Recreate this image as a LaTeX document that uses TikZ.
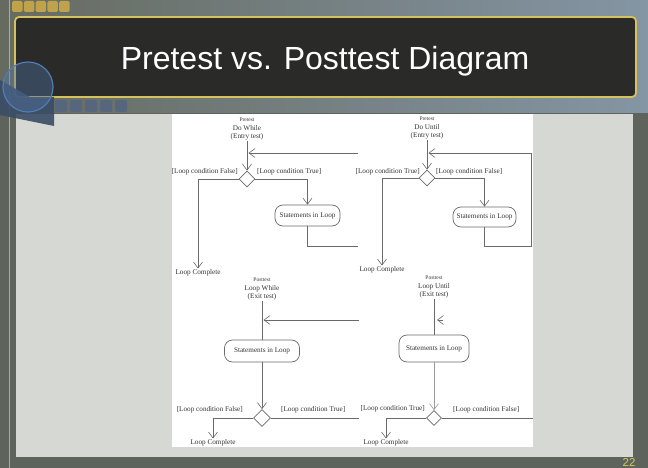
\documentclass[tikz,border=0pt]{standalone}
\usepackage{fontspec}
\setmainfont{Liberation Serif}
\newfontfamily\ttlfont{Liberation Sans}
\usetikzlibrary{arrows.meta,shapes.geometric}
\definecolor{bgbase}{HTML}{5E635C}
\definecolor{bgleft}{HTML}{666B60}
\definecolor{bgright}{HTML}{8495A4}
\definecolor{goldline}{HTML}{D4C25C}
\definecolor{titlefill}{HTML}{2A2B29}
\definecolor{sqgold}{HTML}{BFA24A}
\definecolor{sqblue}{HTML}{56677D}
\definecolor{navyshade}{HTML}{3A4C66}
\definecolor{panelc}{HTML}{D6D8D4}
\definecolor{linec}{HTML}{6A6A6A}
\definecolor{lightlinec}{HTML}{9A9A9A}
\definecolor{txtc}{HTML}{353535}
\definecolor{pagenum}{HTML}{D8C860}
\newcommand\hdsmall{\fontsize{5.5}{8}\selectfont}
\tikzset{
  conn/.style={draw=linec, line width=0.7pt},
  arr/.style={-{Straight Barb[length=6pt,width=9pt,line width=0.6pt]}},
  hdnode/.style={align=center, text=txtc, font=\fontsize{7.2}{8.2}\selectfont, inner sep=1pt},
  labnode/.style={text=txtc, font=\fontsize{7.2}{8.2}\selectfont, inner sep=1pt},
  boxnode/.style={draw=linec, line width=0.7pt, rounded corners=8pt, text=txtc,
    font=\fontsize{7.2}{8.2}\selectfont, inner sep=1pt, fill=white},
  dianode/.style={diamond, draw=linec, line width=0.7pt, fill=white, inner sep=0pt}
}
\begin{document}
\begin{tikzpicture}[x=1pt,y=-1pt]
\useasboundingbox (0,0) rectangle (648,468);
% slide background
\fill[bgbase] (0,0) rectangle (648,468);
\shade[left color=bgleft, right color=bgright] (0,0) rectangle (648,113);
\draw[goldline!80!bgbase, line width=1pt] (9,0) -- (9,468);
\foreach \i in {0,...,4}
  \fill[sqgold, rounded corners=1.5pt] ({12+11.8*\i},1) rectangle ({22.5+11.8*\i},12);
\draw[goldline, line width=1.8pt, fill=titlefill, rounded corners=4pt] (15,17) rectangle (636,97);
\foreach \i in {0,...,4}
  \fill[sqblue, rounded corners=1.5pt] ({55+15*\i},100) rectangle ({67+15*\i},112);
\fill[panelc] (16,114) rectangle (633,457);
\fill[white] (172,114) rectangle (533,447);
\fill[navyshade, opacity=0.9] (0,80) -- (30,97) -- (54,97) -- (54,126) -- (0,115) -- cycle;
\draw[draw={rgb,255:red,80;green,125;blue,180}, line width=1.2pt, fill={rgb,255:red,80;green,115;blue,165}, fill opacity=0.4] (28,87) circle (25);
\node[text=white, font=\ttlfont\fontsize{32}{36}\selectfont, anchor=base] (title) at (325,70) {Pretest vs. Posttest Diagram};
\node[text=pagenum, font=\ttlfont\fontsize{11.5}{12}\selectfont, anchor=base] (pgnum) at (629,466) {22};

% ---------- Pretest Do While ----------
\node[hdnode] (tlhead) at (247,129) {{\hdsmall Pretest}\\Do While\\(Entry test)};
\node[dianode, minimum width=16pt, minimum height=16pt] (tldia) at (247,179) {};
\node[boxnode, minimum width=65pt, minimum height=21pt] (tlbox) at (307.5,215.5) {Statements in Loop};
\node[labnode] (tlout) at (198,273) {Loop Complete};
\node[labnode, anchor=east] (tlfalse) at (239,172) {[Loop condition False]};
\node[labnode, anchor=west] (tltrue) at (256,172) {[Loop condition True]};
\coordinate (tlc1) at (358,246);
\coordinate (tlc2) at (358,153);
\draw[conn,arr] (tlhead.south) -- (tldia.north);
\draw[conn,arr] (tldia.west) -| (tlout.north);
\draw[conn,arr] (tldia.east) -| (tlbox.north);
\draw[conn] (tlbox.south) |- (tlc1);
\draw[conn,arr] (tlc2) -- ([xshift=1.5pt]tlhead.south |- tlc2);

% ---------- Pretest Do Until ----------
\node[hdnode] (trhead) at (427,128) {{\hdsmall Pretest}\\Do Until\\(Entry test)};
\node[dianode, minimum width=16pt, minimum height=16pt] (trdia) at (427,178) {};
\node[boxnode, minimum width=63pt, minimum height=20pt] (trbox) at (484.5,217) {Statements in Loop};
\node[labnode] (trout) at (382,270) {Loop Complete};
\node[labnode, anchor=east] (trtrue) at (421,172) {[Loop condition True]};
\node[labnode, anchor=west] (trfalse) at (435,172) {[Loop condition False]};
\coordinate (trc1) at (531,246);
\coordinate (trc2) at (531,153);
\draw[conn,arr] (trhead.south) -- (trdia.north);
\draw[conn,arr] (trdia.west) -| (trout.north);
\draw[conn,arr] (trdia.east) -| (trbox.north);
\draw[conn,arr] (trbox.south) |- (trc1) -- (trc2) -- ([xshift=1.5pt]trhead.south |- trc2);

% ---------- Posttest Loop While ----------
\node[hdnode] (blhead) at (262,289) {{\hdsmall Posttest}\\Loop While\\(Exit test)};
\node[boxnode, minimum width=75pt, minimum height=22pt] (blbox) at (262,351) {Statements in Loop};
\node[dianode, minimum width=17pt, minimum height=17pt] (bldia) at (262,418) {};
\node[labnode] (blout) at (213,443) {Loop Complete};
\node[labnode, anchor=east] (blfalse) at (244,410) {[Loop condition False]};
\node[labnode, anchor=west] (bltrue) at (280,410) {[Loop condition True]};
\coordinate (blc1) at (359,418);
\coordinate (blc2) at (359,320);
\draw[conn] (blhead.south) -- (blbox.north);
\draw[conn,arr] (blbox.south) -- (bldia.north);
\draw[conn,arr] (bldia.west) -| (blout.north);
\draw[conn] (bldia.east) -- (blc1);
\draw[conn,arr] (blc2) -- ([xshift=1.5pt]blhead.south |- blc2);

% ---------- Posttest Loop Until ----------
\node[hdnode] (brhead) at (434,287) {{\hdsmall Posttest}\\Loop Until\\(Exit test)};
\node[boxnode, minimum width=70pt, minimum height=27pt] (brbox) at (434,348.5) {Statements in Loop};
\node[dianode, minimum width=15pt, minimum height=15pt] (brdia) at (434,418) {};
\node[labnode] (brout) at (386,443) {Loop Complete};
\node[labnode, anchor=east] (brtrue) at (426,409) {[Loop condition True]};
\node[labnode, anchor=west] (brfalse) at (452,410) {[Loop condition False]};
\coordinate (brc1) at (533,418);
\coordinate (brc2) at (443,320);
\draw[conn] (brhead.south) -- (brbox.north);
\draw[conn,arr,draw=lightlinec] (brbox.south) -- (brdia.north);
\draw[conn,arr] (brdia.west) -| (brout.north);
\draw[conn] (brdia.east) -- (brc1);
\draw[conn,arr,shorten >=3pt] (brc2) -- (brhead.south |- brc2);
\end{tikzpicture}
\end{document}
